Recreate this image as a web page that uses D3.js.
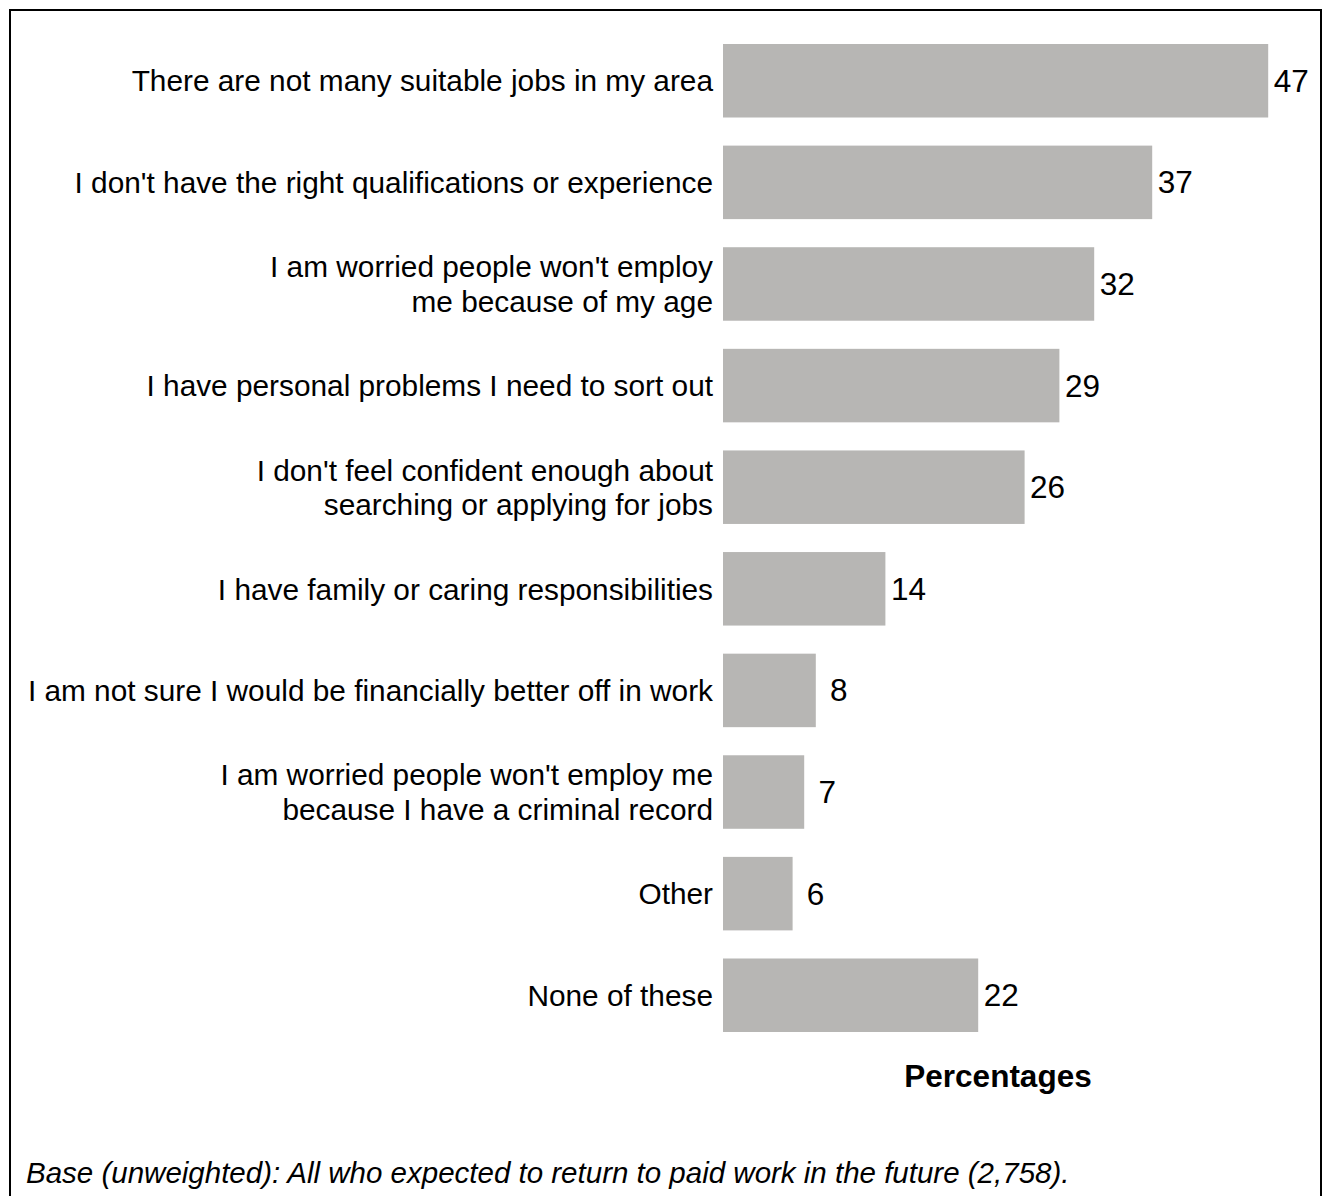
<!DOCTYPE html>
<html>
<head>
<meta charset="utf-8">
<script src="https://cdn.jsdelivr.net/npm/d3@7"></script>
<style>
  html, body { margin: 0; padding: 0; background: #ffffff; }
  svg { display: block; font-family: "Liberation Sans", Arial, sans-serif; }
</style>
</head>
<body>
<svg id="chart" width="1322" height="1196"></svg>
<script>
// Reasons given for difficulty returning to paid work (percentages)
const categories = [
  ["There are not many suitable jobs in my area"],
  ["I don't have the right qualifications or experience"],
  ["I am worried people won't employ", "me because of my age"],
  ["I have personal problems I need to sort out"],
  ["I don't feel confident enough about", "searching or applying for jobs"],
  ["I have family or caring responsibilities"],
  ["I am not sure I would be financially better off in work"],
  ["I am worried people won't employ me", "because I have a criminal record"],
  ["Other"],
  ["None of these"]
];
const values = [47, 37, 32, 29, 26, 14, 8, 7, 6, 22];
const axisTitle = "Percentages";
const footnote = "Base (unweighted): All who expected to return to paid work in the future (2,758).";

const svg = d3.select("#chart");
const keys = categories.map(c => c.join(" "));

const x = d3.scaleLinear().domain([0, 50]).range([723, 1303]);
const y = d3.scaleBand().domain(keys).range([44, 1032]).paddingInner(0.2766).paddingOuter(0);

// Frame (open at the bottom edge of the image)
svg.append("rect")
  .attr("x", 10).attr("y", 10)
  .attr("width", 1311).attr("height", 1260)
  .attr("fill", "none").attr("stroke", "#000").attr("stroke-width", 2);

const rows = svg.append("g").selectAll("g")
  .data(values.map((v, i) => ({ v, lines: categories[i], key: keys[i] })))
  .join("g");

rows.append("rect")
  .attr("x", x(0))
  .attr("y", d => y(d.key))
  .attr("width", d => x(d.v) - x(0))
  .attr("height", y.bandwidth())
  .attr("fill", "#b7b6b4");

// Category labels, right-aligned next to the bars
const lineGap = 34.5;
rows.append("text")
  .attr("text-anchor", "end")
  .attr("font-size", 29.8)
  .attr("fill", "#000")
  .each(function(d) {
    const cy = y(d.key) + y.bandwidth() / 2;
    const n = d.lines.length;
    d3.select(this).selectAll("tspan")
      .data(d.lines)
      .join("tspan")
      .attr("x", x(0) - 10)
      .attr("y", (t, j) => cy + (j - (n - 1) / 2) * lineGap + 10.7)
      .text(t => t);
  });

// Value labels
rows.append("text")
  .attr("x", d => x(d.v) + 23)
  .attr("y", d => y(d.key) + y.bandwidth() / 2 + 11)
  .attr("text-anchor", "middle")
  .attr("font-size", 31.5)
  .attr("fill", "#000")
  .text(d => d.v);

svg.append("text")
  .attr("x", 998).attr("y", 1087)
  .attr("text-anchor", "middle")
  .attr("font-size", 31.5)
  .attr("font-weight", "bold")
  .attr("fill", "#000")
  .text(axisTitle);

svg.append("text")
  .attr("x", 26).attr("y", 1183)
  .attr("font-size", 29.5)
  .attr("font-style", "italic")
  .attr("fill", "#000")
  .text(footnote);
</script>
</body>
</html>
